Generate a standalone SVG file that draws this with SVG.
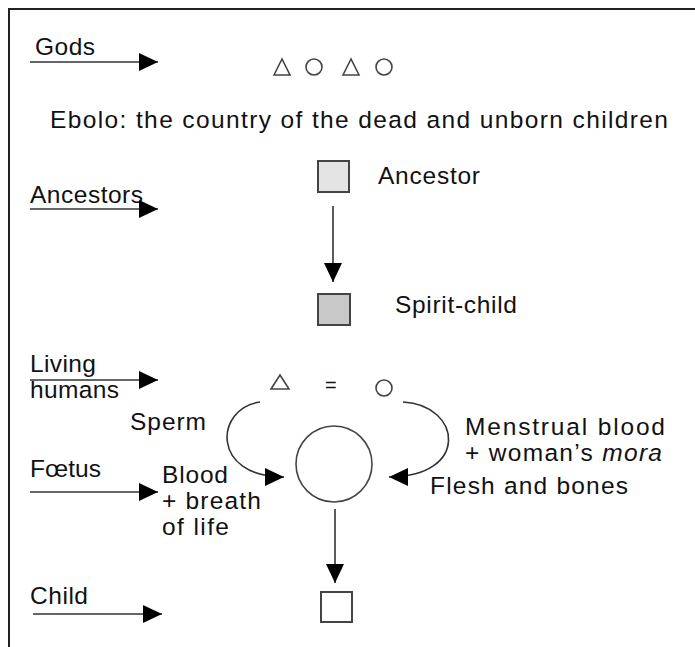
<svg xmlns="http://www.w3.org/2000/svg" width="695" height="647" viewBox="0 0 695 647">
<style>
text{font-family:"Liberation Sans",Arial,sans-serif;font-size:24.5px;fill:#111}
.ln{stroke:#333;stroke-width:1.6;fill:none}
.sym{stroke:#444;stroke-width:1.6;fill:#fff}
.box{stroke:#444;stroke-width:2}
</style>
<defs>
<marker id="ah" markerUnits="userSpaceOnUse" markerWidth="22" markerHeight="20" refX="19" refY="9" orient="auto"><path d="M0,0 L19,9 L0,18 z" fill="#000"/></marker>
</defs>
<g id="frame"><path d="M9,647 V9 H695" fill="none" stroke="#222" stroke-width="2"/></g>
<g id="level-labels">
<text x="35" y="55" textLength="60">Gods</text>
<text x="30" y="203" textLength="113">Ancestors</text>
<text x="30" y="372" textLength="66">Living</text>
<text x="30" y="398" textLength="89">humans</text>
<text x="30" y="477" textLength="71">Fœtus</text>
<text x="30" y="604" textLength="58">Child</text>
</g>
<g id="gods">
<polygon class="sym" points="274,75 282,59 290,75"/>
<circle class="sym" cx="314" cy="67" r="8"/>
<polygon class="sym" points="343,75 351,59 359,75"/>
<circle class="sym" cx="384" cy="67" r="8"/>
</g>
<g id="ebolo"><text x="50" y="128" textLength="618" lengthAdjust="spacing">Ebolo: the country of the dead and unborn children</text></g>
<g id="ancestor"><rect class="box" x="318" y="161" width="31" height="31" fill="#e4e4e4"/><text x="378" y="184" textLength="102">Ancestor</text></g>
<g id="spirit-child"><rect class="box" x="318" y="294" width="32" height="31" fill="#c8c8c8"/><text x="395" y="313" textLength="122">Spirit-child</text></g>
<g id="living-humans">
<polygon class="sym" points="271,389 280,375 289,389"/>
<text x="325" y="392" style="font-size:20px">=</text>
<circle class="sym" cx="384" cy="388" r="8"/>
</g>
<g id="foetus"><circle class="sym" cx="334" cy="464" r="38"/></g>
<g id="child"><rect class="box" x="321" y="592" width="31" height="30" fill="#fff" stroke-width="1.6"/></g>
<g id="labels">
<text x="130" y="430" textLength="76">Sperm</text>
<text x="465" y="435" textLength="200" lengthAdjust="spacing">Menstrual blood</text>
<text x="465" y="461" textLength="197" lengthAdjust="spacing">+ woman’s <tspan font-style="italic">mora</tspan></text>
<text x="162" y="483" textLength="66">Blood</text>
<text x="162" y="509" textLength="99" lengthAdjust="spacing">+ breath</text>
<text x="162" y="535" textLength="67" lengthAdjust="spacing">of life</text>
<text x="430" y="494" textLength="198" lengthAdjust="spacing">Flesh and bones</text>
</g>
<g id="connectors">
<line class="ln" x1="30" y1="62" x2="158" y2="62" marker-end="url(#ah)"/>
<line class="ln" x1="30" y1="209" x2="158" y2="209" marker-end="url(#ah)"/>
<line class="ln" x1="30" y1="380" x2="158" y2="380" marker-end="url(#ah)"/>
<line class="ln" x1="30" y1="492" x2="158" y2="492" marker-end="url(#ah)"/>
<line class="ln" x1="33" y1="614" x2="162" y2="614" marker-end="url(#ah)"/>
<line class="ln" x1="333" y1="206" x2="333" y2="282" marker-end="url(#ah)"/>
<line class="ln" x1="335" y1="509" x2="335" y2="583" marker-end="url(#ah)"/>
<path class="ln" d="M260,402 C215,408 210,477 284,477" marker-end="url(#ah)"/>
<path class="ln" d="M403,402 C462,405 470,477 389,477" marker-end="url(#ah)"/>
</g>
</svg>
